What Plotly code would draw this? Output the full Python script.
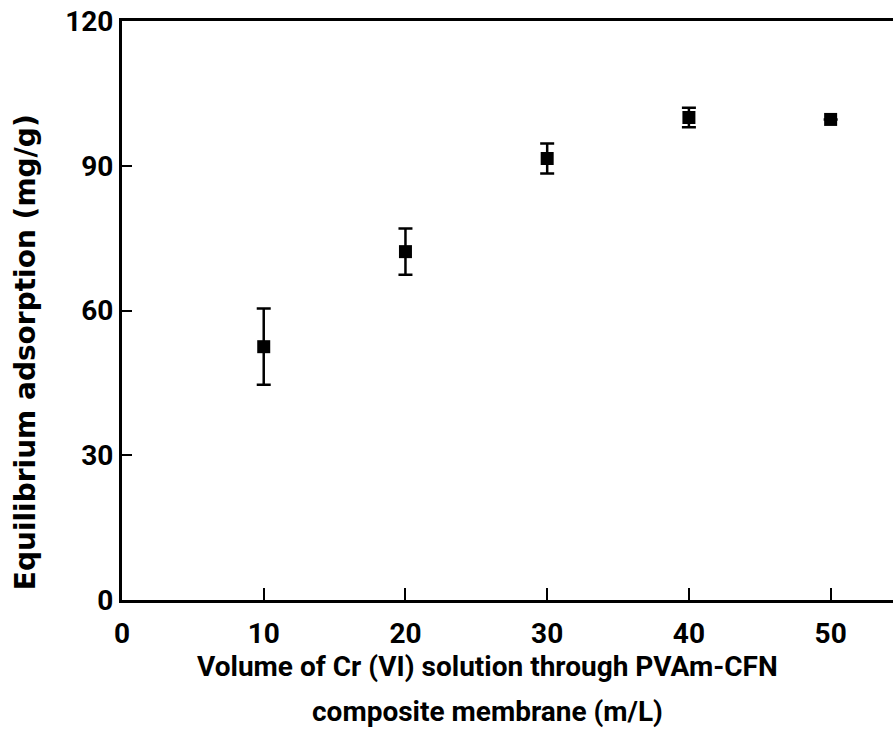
import plotly.graph_objects as go

# data
volume = [10, 20, 30, 40, 50]
adsorption = [52.5, 72.2, 91.5, 100.0, 99.6]
adsorption_err = [7.9, 4.8, 3.1, 2.0, None]  # no bar visible at 50

x_ticks = [0, 10, 20, 30, 40, 50]
y_ticks = [0, 30, 60, 90, 120]

FONT = "Roboto"

fig = go.Figure()

fig.add_trace(go.Scatter(
    x=volume,
    y=adsorption,
    mode="markers",
    marker=dict(symbol="square", size=13, color="black"),
    error_y=dict(type="data", array=adsorption_err, visible=True,
                 color="black", thickness=2.5, width=7),
    showlegend=False,
))

fig.update_xaxes(
    range=[0, 54.4],
    tickvals=x_ticks,
    ticks="inside", ticklen=12, tickwidth=2, tickcolor="black",
    showline=True, linewidth=3, linecolor="black", mirror=True,
    showgrid=False, zeroline=False,
    ticklabelstandoff=6,
    tickfont=dict(family=FONT, size=28, color="black", weight="bold"),
)
fig.update_yaxes(
    range=[0, 120],
    tickvals=y_ticks,
    ticks="inside", ticklen=10, tickwidth=2, tickcolor="black",
    showline=True, linewidth=3, linecolor="black", mirror=False,
    showgrid=False, zeroline=False,
    tickfont=dict(family=FONT, size=28, color="black", weight="bold"),
)

title_font = dict(family=FONT, size=28, color="black", weight="bold")
fig.add_annotation(text="Volume of Cr (VI) solution through PVAm-CFN",
                   xref="paper", yref="paper", x=0.4747, y=-0.1157,
                   xanchor="center", yanchor="middle", showarrow=False,
                   font=title_font)
fig.add_annotation(text="composite membrane (m/L)",
                   xref="paper", yref="paper", x=0.4747, y=-0.1934,
                   xanchor="center", yanchor="middle", showarrow=False,
                   font=title_font)
fig.add_annotation(text="Equilibrium adsorption (mg/g)",
                   xref="paper", yref="paper", x=-0.1258, y=0.428,
                   xanchor="center", yanchor="middle", showarrow=False,
                   textangle=-90,
                   font=dict(family="DejaVu Sans", size=28, color="black", weight="bold"))

fig.update_layout(
    width=893, height=729,
    margin=dict(l=122, r=0, t=21, b=129),
    paper_bgcolor="white",
    plot_bgcolor="white",
)

# drop the default page margin so the figure sits at the window corner
fig.write_html("out.html", config={"displayModeBar": False},
               post_script="document.body.style.margin='0';")
